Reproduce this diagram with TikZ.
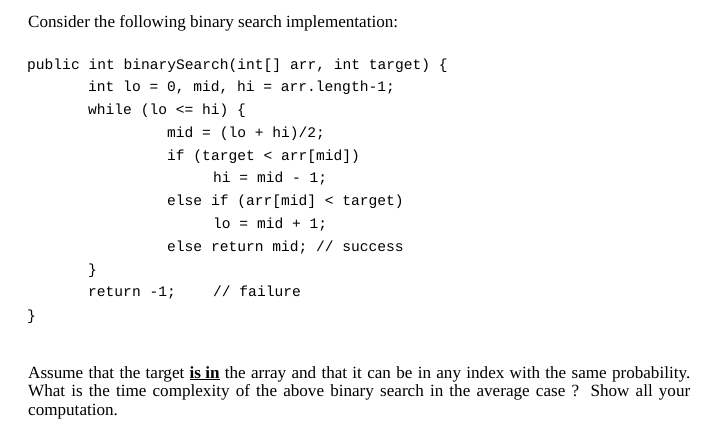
\documentclass[tikz,border=0pt]{standalone}
\usepackage{fontspec}
\setmainfont{Liberation Serif}
\setmonofont{Liberation Mono}
\begin{document}
\begin{tikzpicture}[x=1pt,y=-1pt,
  code/.style={anchor=base west,inner sep=0pt,font=\ttfamily\fontsize{14.6}{16}\selectfont},
  prose/.style={anchor=base west,inner sep=0pt,font=\fontsize{17.1}{18.6}\selectfont}]
\useasboundingbox[fill=white] (0,0) rectangle (709,440);
\node[prose] (t) at (28,27) {Consider the following binary search implementation:};
\node[code] (l1) at (27,69) {public int binarySearch(int[] arr, int target) \{};
\node[code] (l2) at (88,91) {int lo = 0, mid, hi = arr.length-1;};
\node[code] (l3) at (88,114) {while (lo <= hi) \{};
\node[code] (l4) at (167,137) {mid = (lo + hi)/2;};
\node[code] (l5) at (167,160) {if (target < arr[mid])};
\node[code] (l6) at (213,182) {hi = mid - 1;};
\node[code] (l7) at (167,205) {else if (arr[mid] < target)};
\node[code] (l8) at (213,228) {lo = mid + 1;};
\node[code] (l9) at (167,251) {else return mid; // success};
\node[code] (l10) at (88,274) {\}};
\node[code] (l11) at (88,296) {return -1;};
\node[code] (l12) at (213,296) {// failure};
\node[code] (l13) at (27,320) {\}};
\node[prose,anchor=north west,text width=662pt,align=justify] (p) at (28,366)
 {Assume that the target \underline{\textbf{is in}} the array and that it can be in any index with the same probability. What is the time complexity of the above binary search in the average case ? Show all your computation.};
\end{tikzpicture}
\end{document}
